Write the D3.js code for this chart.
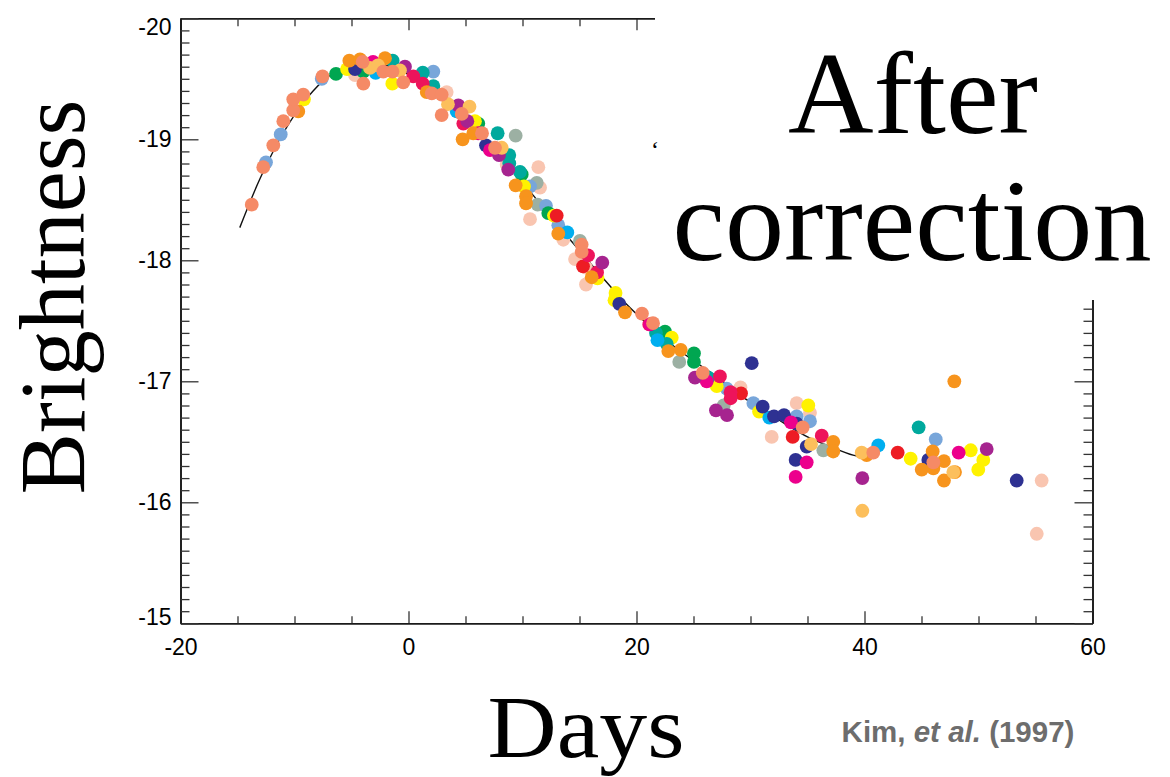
<!DOCTYPE html>
<html>
<head>
<meta charset="utf-8">
<script src="https://cdn.jsdelivr.net/npm/d3@7"></script>
<style>
  html, body { margin: 0; padding: 0; background: #fff; }
  svg { display: block; }
</style>
</head>
<body>
<svg id="chart" width="1170" height="777"></svg>
<script>
// Light curves of type Ia supernovae after the width-luminosity correction.
// Each array holds [days from maximum, absolute magnitude] for one supernova.
const snLightBlue = [[-12.50,-18.81],[-11.21,-19.04],[-7.61,-19.50],[2.18,-19.56],[10.66,-18.61],[12.06,-18.45],[13.14,-18.29],[27.91,-16.94],[30.25,-16.82],[34.05,-16.71],[35.22,-16.67],[46.25,-16.52]];
const snPeach = [[-4.69,-19.53],[3.35,-19.39],[8.61,-18.79],[11.39,-18.77],[11.54,-18.60],[10.66,-18.34],[13.58,-18.17],[14.61,-18.01],[15.57,-17.94],[15.57,-17.80],[29.12,-16.95],[31.86,-16.54],[34.05,-16.82],[35.22,-16.74],[55.54,-16.18],[55.11,-15.74]];
const snGrayGreen = [[9.40,-19.03],[11.25,-18.64],[11.33,-18.46],[15.04,-18.16],[23.75,-17.16],[27.65,-16.80],[36.39,-16.43]];
const snGreen = [[-6.36,-19.54],[-3.96,-19.56],[6.12,-19.13],[9.93,-18.71],[12.26,-18.39],[22.50,-17.41],[25.04,-17.23],[25.04,-17.16]];
const snYellow = [[-9.17,-19.33],[-5.39,-19.58],[-1.42,-19.46],[5.83,-19.15],[10.13,-18.61],[12.76,-18.37],[16.58,-17.85],[18.16,-17.73],[18.07,-17.67],[23.09,-17.36],[27.04,-16.96],[30.75,-16.75],[35.07,-16.80],[44.05,-16.36],[49.32,-16.43],[50.42,-16.35],[49.98,-16.27]];
const snTeal = [[-1.39,-19.65],[1.25,-19.55],[2.18,-19.44],[7.82,-19.05],[8.84,-18.87],[8.84,-18.80],[9.78,-18.73],[21.71,-17.40],[22.65,-17.31],[26.30,-17.03],[44.75,-16.62]];
const snCyan = [[-2.88,-19.55],[4.23,-19.23],[13.93,-18.23],[21.84,-17.34],[31.65,-16.70],[41.21,-16.47]];
const snNavy = [[-4.69,-19.58],[6.80,-18.95],[18.49,-17.64],[30.11,-17.15],[31.07,-16.79],[32.06,-16.71],[32.94,-16.72],[34.05,-16.65],[34.93,-16.46],[33.96,-16.35],[45.60,-16.35],[53.35,-16.18]];
const snRed = [[13.00,-18.37],[15.31,-17.95],[29.17,-16.90],[33.70,-16.54],[42.91,-16.41]];
const snCrimson = [[0.42,-19.52],[1.25,-19.46],[4.81,-19.13],[15.75,-18.04],[16.54,-17.90],[21.12,-17.47],[27.32,-17.04],[28.25,-16.91],[28.26,-16.86],[36.25,-16.55]];
const snMagenta = [[-3.11,-19.64],[6.12,-19.05],[7.15,-18.91],[21.19,-17.47],[26.16,-17.00],[33.55,-16.66],[34.93,-16.33],[33.96,-16.21],[48.26,-16.41]];
const snPurple = [[-0.31,-19.60],[4.37,-19.28],[5.16,-19.15],[7.94,-18.87],[8.75,-18.75],[17.00,-17.98],[25.13,-17.03],[26.97,-16.76],[27.94,-16.72],[39.81,-16.20],[50.72,-16.44]];
const snOrange = [[-9.67,-19.23],[-5.19,-19.65],[-4.25,-19.66],[-2.06,-19.67],[1.60,-19.39],[4.75,-19.00],[5.68,-19.05],[9.40,-18.62],[10.31,-18.53],[10.31,-18.47],[13.14,-18.22],[16.07,-17.86],[18.99,-17.57],[22.79,-17.25],[23.88,-17.26],[37.26,-16.50],[37.26,-16.42],[40.19,-16.39],[45.98,-16.42],[45.02,-16.27],[46.04,-16.28],[46.97,-16.34],[46.97,-16.18],[47.88,-17.00],[47.94,-16.25]];
const snLightOrange = [[-3.38,-19.59],[-2.68,-19.61],[-0.75,-19.57],[3.46,-19.29],[5.35,-19.27],[8.18,-18.93],[35.31,-16.48],[39.75,-16.41],[39.81,-15.93],[47.79,-16.25]];
const snSalmon = [[-13.75,-18.46],[-12.74,-18.77],[-11.86,-18.95],[-10.98,-19.15],[-10.11,-19.24],[-10.11,-19.33],[-9.23,-19.37],[-7.54,-19.52],[-4.02,-19.64],[-3.96,-19.46],[-2.21,-19.56],[-1.40,-19.56],[-0.46,-19.47],[2.04,-19.38],[2.91,-19.37],[2.91,-19.20],[4.67,-19.21],[6.45,-19.05],[7.59,-18.93],[15.19,-18.13],[15.19,-18.07],[20.48,-17.56],[21.45,-17.48],[25.81,-17.07],[34.58,-16.62],[40.77,-16.41],[46.04,-16.33]];

// Template light curve
const templateDays = [-14.8, -13, -11, -9, -7, -5, -3, -1, 1, 3, 5, 7, 9, 11, 13, 15, 17, 19, 21, 23, 25, 27, 29, 31, 33, 35, 37, 39, 39.6];
const templateMags = [-18.27, -18.68, -19.05, -19.33, -19.52, -19.61, -19.63, -19.58, -19.48, -19.34, -19.17, -18.97, -18.76, -18.53, -18.30, -18.08, -17.86, -17.65, -17.47, -17.31, -17.17, -17.04, -16.89, -16.77, -16.65, -16.54, -16.46, -16.39, -16.38];

const xTickValues = [-20, 0, 20, 40, 60];
const yTickValues = [-20, -19, -18, -17, -16, -15];

const series = [
  { data: snPeach, color: "#f9c5b0" },
  { data: snGrayGreen, color: "#9cb0a3" },
  { data: snLightBlue, color: "#78a6da" },
  { data: snGreen, color: "#00a651" },
  { data: snYellow, color: "#fff200" },
  { data: snTeal, color: "#00a99d" },
  { data: snCyan, color: "#00aeef" },
  { data: snNavy, color: "#2e3192" },
  { data: snRed, color: "#ed1c24" },
  { data: snCrimson, color: "#ed145b" },
  { data: snMagenta, color: "#ec008c" },
  { data: snPurple, color: "#a6248f" },
  { data: snOrange, color: "#f7941d" },
  { data: snLightOrange, color: "#fcbf5c" },
  { data: snSalmon, color: "#f58a66" }
];

const svg = d3.select("#chart");
const plotLeft = 180.5, plotRight = 1092.5, plotTop = 18.3, plotBottom = 623.3;

const x = d3.scaleLinear().domain([-20, 60]).range([plotLeft, plotRight]);
const y = d3.scaleLinear().domain([-20, -15]).range([plotTop, plotBottom]);

const axisFont = "'Liberation Sans', Arial, Helvetica, sans-serif";
const plainNumber = d => String(d);
const minorX = d3.range(-20, 60.001, 5).filter(v => v % 20 !== 0);
const minorY = d3.range(0, 51).map(i => +(-20 + i * 0.1).toFixed(1)).filter(v => Math.abs(v - Math.round(v)) > 1e-6);

function styleAxis(g) {
  g.selectAll("path.domain").attr("stroke", "#1a1a1a").attr("stroke-width", 1.6);
  g.selectAll(".tick line").attr("stroke", "#333").attr("stroke-width", 1.3);
  g.selectAll(".tick text").attr("fill", "#000").attr("font-size", 23).attr("font-family", axisFont);
}

// Bottom axis
const gB = svg.append("g").attr("transform", `translate(0,${plotBottom})`)
  .call(d3.axisBottom(x).tickValues(xTickValues).tickSize(-12).tickSizeOuter(0).tickPadding(27).tickFormat(plainNumber));
gB.selectAll(".tick text").attr("dy", "0.2em");
styleAxis(gB);
const gBm = svg.append("g").attr("transform", `translate(0,${plotBottom})`)
  .call(d3.axisBottom(x).tickValues(minorX).tickSize(-7).tickSizeOuter(0).tickFormat(""));
styleAxis(gBm);

// Top axis
const gT = svg.append("g").attr("transform", `translate(0,${plotTop})`)
  .call(d3.axisTop(x).tickValues(xTickValues).tickSize(-12).tickSizeOuter(0).tickFormat(""));
styleAxis(gT);
const gTm = svg.append("g").attr("transform", `translate(0,${plotTop})`)
  .call(d3.axisTop(x).tickValues(minorX).tickSize(-8).tickSizeOuter(0).tickFormat(""));
styleAxis(gTm);

// Left axis
const gL = svg.append("g").attr("transform", `translate(${plotLeft},0)`)
  .call(d3.axisLeft(y).tickValues(yTickValues).tickSize(-18).tickSizeOuter(0).tickPadding(9).tickFormat(plainNumber));
styleAxis(gL);
gL.selectAll(".tick text").attr("dy", d => d === -20 ? "0.72em" : d === -15 ? "0.05em" : "0.32em");
const gLm = svg.append("g").attr("transform", `translate(${plotLeft},0)`)
  .call(d3.axisLeft(y).tickValues(minorY).tickSize(-9).tickSizeOuter(0).tickFormat(""));
styleAxis(gLm);

// Right axis
const gR = svg.append("g").attr("transform", `translate(${plotRight},0)`)
  .call(d3.axisRight(y).tickValues(yTickValues).tickSize(-18).tickSizeOuter(0).tickFormat(""));
styleAxis(gR);
const gRm = svg.append("g").attr("transform", `translate(${plotRight},0)`)
  .call(d3.axisRight(y).tickValues(minorY).tickSize(-9).tickSizeOuter(0).tickFormat(""));
styleAxis(gRm);

// Template curve
const line = d3.line().x(d => x(d[0])).y(d => y(d[1])).curve(d3.curveCatmullRom.alpha(0.5));
svg.append("path")
  .datum(templateDays.map((d, i) => [d, templateMags[i]]))
  .attr("d", line).attr("fill", "none").attr("stroke", "#111").attr("stroke-width", 1.4);

// Observations
series.forEach(s => {
  svg.append("g").selectAll("circle").data(s.data).join("circle")
    .attr("cx", d => x(d[0])).attr("cy", d => y(d[1])).attr("r", 6.9)
    .attr("fill", s.color);
});

// Title panel over the upper right corner of the frame
svg.append("rect").attr("x", 655).attr("y", 0).attr("width", 515).attr("height", 300).attr("fill", "#fff");

const serif = "'Liberation Serif', 'Times New Roman', serif";
svg.append("text").attr("x", 913).attr("y", 133).attr("text-anchor", "middle")
  .attr("font-family", serif).attr("font-size", 116)
  .attr("textLength", 250).attr("lengthAdjust", "spacingAndGlyphs").text("After");
svg.append("text").attr("x", 912).attr("y", 260).attr("text-anchor", "middle")
  .attr("font-family", serif).attr("font-size", 116)
  .attr("textLength", 479).attr("lengthAdjust", "spacingAndGlyphs").text("correction");
svg.append("text").attr("x", 651).attr("y", 158)
  .attr("font-family", serif).attr("font-size", 24).text("\u2018");

// Axis titles
svg.append("text").attr("transform", "translate(84,297) rotate(-90)").attr("text-anchor", "middle")
  .attr("font-family", serif).attr("font-size", 93)
  .attr("textLength", 395).attr("lengthAdjust", "spacingAndGlyphs").text("Brightness");
svg.append("text").attr("x", 586).attr("y", 757).attr("text-anchor", "middle")
  .attr("font-family", serif).attr("font-size", 88)
  .attr("textLength", 197).attr("lengthAdjust", "spacingAndGlyphs").text("Days");

// Citation
const cite = svg.append("text").attr("x", 958).attr("y", 742).attr("text-anchor", "middle")
  .attr("font-family", axisFont).attr("font-weight", "bold").attr("font-size", 29.5).attr("fill", "#6d6d6d");
cite.append("tspan").text("Kim, ");
cite.append("tspan").attr("font-style", "italic").text("et al.");
cite.append("tspan").text(" (1997)");
</script>
</body>
</html>
